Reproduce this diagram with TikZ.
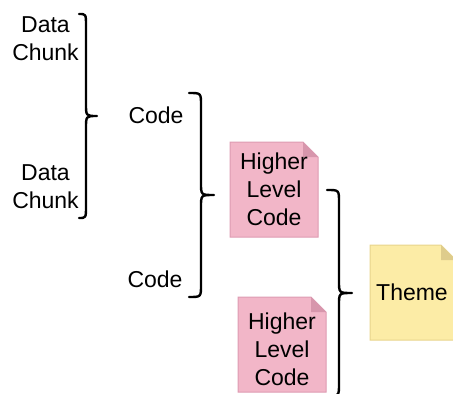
\documentclass[tikz,border=0pt]{standalone}
\usepackage{fontspec}
\setmainfont{Liberation Sans}
\begin{document}
\begin{tikzpicture}[x=1pt,y=-1pt,
  lbl/.style={align=center,font=\fontsize{23}{28}\selectfont,inner sep=0pt},
  brc/.style={line width=2.4pt,line cap=round,line join=round},
  pinknote/.style={fill=notepink,draw=notepinkd,line width=1pt},
  yellownote/.style={fill=noteyel,draw=noteyeld,line width=1pt}]
\definecolor{notepink}{RGB}{242,182,200}
\definecolor{notepinkd}{RGB}{222,155,178}
\definecolor{noteyel}{RGB}{252,236,166}
\definecolor{noteyeld}{RGB}{232,212,140}
\definecolor{foldpink}{RGB}{215,150,172}
\definecolor{foldyel}{RGB}{222,204,140}
\useasboundingbox (0,0) rectangle (453,394);
\clip (0,0) rectangle (453,394);
% note boxes
\newcommand{\notebox}[6]{% x1,y1,x2,y2,style,foldcolor
  \path[#5] (#1,#2) -- (#3-15,#2) -- (#3,#2+15) -- (#3,#4) -- (#1,#4) -- cycle;
  \path[fill=#6] (#3-15,#2) -- (#3-15,#2+15) -- (#3,#2+15) -- cycle;
}
\notebox{230}{142}{318}{237}{pinknote}{foldpink}
\notebox{238}{297}{326}{392}{pinknote}{foldpink}
\notebox{370}{245}{456}{340}{yellownote}{foldyel}
% texts
\node[lbl] (dc1) at (45.5,39) {Data\\Chunk};
\node[lbl] (dc2) at (45.5,187) {Data\\Chunk};
\node[lbl] (c1) at (156,115) {Code};
\node[lbl] (c2) at (155,279) {Code};
\node[lbl] (h1) at (274,189) {Higher\\Level\\Code};
\node[lbl] (h2) at (282,349) {Higher\\Level\\Code};
\node[lbl] (th) at (412,292) {Theme};
% braces
\newcommand{\curly}[5]{% a,b,c,top,bottom ; mid computed
  \draw[brc] (#1,#4) .. controls (#2,#4) .. (#2,#4+12) -- (#2,{(#4+#5)/2-12})
    .. controls (#2,{(#4+#5)/2}) .. (#3,{(#4+#5)/2})
    .. controls (#2,{(#4+#5)/2}) .. (#2,{(#4+#5)/2+12}) -- (#2,#5-12)
    .. controls (#2,#5) .. (#1,#5);
}
\curly{79}{86}{97}{14}{218}
\curly{189}{201}{214}{93}{297}
\curly{327}{339}{352}{190}{396}
\end{tikzpicture}
\end{document}
